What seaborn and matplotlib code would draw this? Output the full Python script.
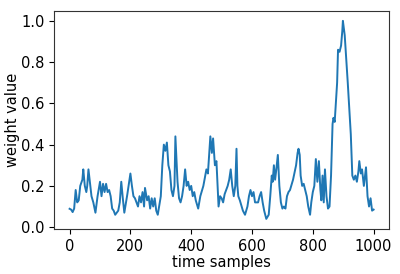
import numpy as np
import pandas as pd
import matplotlib
matplotlib.use("Agg")
import matplotlib.pyplot as plt
import seaborn as sns

# values (sample index, weight)
samples = [0, 5, 10, 15, 20, 25, 30, 35, 42, 45, 50, 55, 58, 62, 68, 72, 78, 85, 92, 100,
           105, 110, 115, 120, 125, 130, 135, 140, 145, 150, 160, 165, 170, 175, 180, 190,
           200, 205, 210, 215, 220, 225, 230, 235, 240, 245, 248, 255, 260, 265, 270, 275,
           280, 285, 290, 300, 305, 310, 315, 320, 325, 330, 335, 340, 345, 348, 355, 360,
           365, 370, 375, 380, 385, 390, 395, 400, 405, 410, 415, 423, 430, 440, 450, 455,
           460, 463, 468, 472, 478, 483, 487, 490, 495, 500, 505, 510, 520, 525, 530, 535,
           540, 545, 549, 552, 555, 560, 570, 577, 585, 590, 595, 600, 605, 610, 620, 625,
           630, 635, 640, 647, 655, 660, 665, 668, 672, 676, 680, 685, 690, 695, 700, 705,
           710, 715, 720, 725, 735, 745, 750, 753, 757, 760, 765, 770, 775, 780, 785, 791,
           795, 800, 805, 810, 815, 820, 825, 828, 832, 836, 840, 845, 850, 855, 860, 865,
           868, 872, 880, 883, 888, 893, 897, 899, 905, 915, 925, 930, 935, 940, 945, 950,
           953, 958, 962, 968, 975, 980, 985, 990, 995, 1000]
weights = [0.089, 0.085, 0.073, 0.09, 0.18, 0.12, 0.13, 0.20, 0.23, 0.28, 0.20, 0.17, 0.20, 0.28,
           0.20, 0.15, 0.12, 0.07, 0.15, 0.22, 0.15, 0.21, 0.17, 0.21, 0.17, 0.18, 0.15, 0.09,
           0.08, 0.06, 0.08, 0.12, 0.22, 0.14, 0.07, 0.16, 0.26, 0.20, 0.15, 0.14, 0.12, 0.10,
           0.15, 0.12, 0.17, 0.10, 0.19, 0.13, 0.15, 0.09, 0.14, 0.10, 0.14, 0.08, 0.06, 0.15,
           0.30, 0.40, 0.37, 0.41, 0.30, 0.27, 0.18, 0.15, 0.20, 0.44, 0.22, 0.14, 0.12, 0.15,
           0.20, 0.28, 0.20, 0.22, 0.18, 0.20, 0.15, 0.17, 0.13, 0.09, 0.15, 0.20, 0.28, 0.26,
           0.37, 0.44, 0.36, 0.43, 0.30, 0.32, 0.20, 0.10, 0.15, 0.14, 0.12, 0.16, 0.20, 0.23,
           0.28, 0.20, 0.15, 0.20, 0.38, 0.20, 0.15, 0.13, 0.08, 0.06, 0.10, 0.15, 0.18, 0.15,
           0.17, 0.12, 0.12, 0.15, 0.17, 0.12, 0.08, 0.04, 0.06, 0.15, 0.25, 0.22, 0.30, 0.23,
           0.28, 0.35, 0.20, 0.12, 0.09, 0.10, 0.09, 0.15, 0.17, 0.18, 0.23, 0.30, 0.36, 0.38,
           0.35, 0.25, 0.20, 0.21, 0.18, 0.15, 0.10, 0.06, 0.12, 0.17, 0.20, 0.33, 0.22, 0.32,
           0.18, 0.13, 0.25, 0.12, 0.28, 0.15, 0.09, 0.10, 0.25, 0.50, 0.53, 0.51, 0.70, 0.86,
           0.85, 0.88, 0.95, 1.00, 0.93, 0.70, 0.45, 0.25, 0.23, 0.25, 0.22, 0.27, 0.32, 0.26,
           0.28, 0.20, 0.29, 0.15, 0.10, 0.14, 0.08, 0.085]

df = pd.DataFrame({"time samples": samples, "weight value": weights})

plt.rcParams["font.size"] = 10.5

fig = plt.figure(figsize=(4.0, 2.74), dpi=100)
ax = fig.add_axes([0.136, 0.165, 0.836, 0.795])
sns.lineplot(data=df, x="time samples", y="weight value", ax=ax, color="#1f77b4", linewidth=1.4)
ax.set_xticks([0, 200, 400, 600, 800, 1000])
ax.set_yticks([0.0, 0.2, 0.4, 0.6, 0.8, 1.0])
ax.set_xlabel("time samples", labelpad=1)
ax.set_ylabel("weight value", labelpad=1)
for s in ax.spines.values():
    s.set_linewidth(0.8)
    s.set_color("#333333")

fig.savefig("out.png", dpi=100)
